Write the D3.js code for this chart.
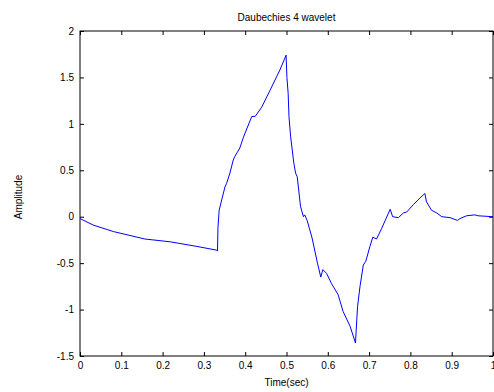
<!DOCTYPE html>
<html>
<head>
<meta charset="utf-8">
<script src="https://cdn.jsdelivr.net/npm/d3@7"></script>
<style>
  body { margin: 0; background: #fff; }
  text { font-family: "Liberation Sans", Arial, sans-serif; }
</style>
</head>
<body>
<div id="chart"></div>
<script>
// valores
var tiempo = [0, 0.032, 0.081, 0.157, 0.218, 0.283, 0.331, 0.333, 0.334, 0.337, 0.343, 0.351,
  0.355, 0.363, 0.371, 0.375, 0.387, 0.396, 0.416, 0.424, 0.440, 0.460, 0.484, 0.499,
  0.501, 0.504, 0.506, 0.510, 0.518, 0.522, 0.526, 0.534, 0.541, 0.544, 0.550, 0.562,
  0.575, 0.583, 0.588, 0.597, 0.609, 0.625, 0.637, 0.654,
  0.667, 0.672, 0.678, 0.686, 0.692, 0.702, 0.709, 0.718, 0.730, 0.741, 0.751, 0.757,
  0.771, 0.783, 0.791, 0.807, 0.823, 0.835, 0.839, 0.851, 0.864, 0.876, 0.896, 0.914,
  0.920, 0.936, 0.956, 0.964, 1.0];
var amplitud = [-0.02, -0.09, -0.16, -0.24, -0.27, -0.32, -0.36, -0.37, -0.12, 0.07, 0.18, 0.32,
  0.36, 0.47, 0.61, 0.65, 0.74, 0.86, 1.08, 1.08, 1.18, 1.36, 1.58, 1.74,
  1.50, 1.33, 1.08, 0.86, 0.57, 0.47, 0.43, 0.11, 0.0, 0.02, -0.04, -0.23,
  -0.50, -0.65, -0.57, -0.61, -0.72, -0.84, -1.02, -1.18,
  -1.36, -0.97, -0.75, -0.52, -0.48, -0.32, -0.22, -0.24, -0.13, -0.02, 0.08, 0.0,
  -0.01, 0.04, 0.05, 0.13, 0.20, 0.25, 0.16, 0.07, 0.04, 0.0, -0.01, -0.04,
  -0.02, 0.01, 0.02, 0.01, 0.0];
var ticksX = [0, 0.1, 0.2, 0.3, 0.4, 0.5, 0.6, 0.7, 0.8, 0.9, 1];
var ticksY = [-1.5, -1, -0.5, 0, 0.5, 1, 1.5, 2];

var W = 494, H = 392;
var margin = {top: 31, right: 1, bottom: 36, left: 80};
var width = W - margin.left - margin.right;
var height = H - margin.top - margin.bottom;

var svg = d3.select("#chart").append("svg")
    .attr("width", W)
    .attr("height", H);

var g = svg.append("g")
    .attr("transform", "translate(" + margin.left + "," + margin.top + ")");

var xScale = d3.scaleLinear().domain([0, 1]).range([0, width]);
var yScale = d3.scaleLinear().domain([-1.5, 2]).range([height, 0]);

// ejes con ticks hacia dentro, estilo matlab
var fmt = function(d) { return String(d); };
function estilo(sel) {
  sel.select(".domain").remove();
  sel.selectAll("line").attr("stroke", "#000");
  sel.selectAll("text").attr("fill", "#000").style("font-size", "10px");
}
g.append("g").attr("transform", "translate(0," + height + ")")
  .call(d3.axisBottom(xScale).tickValues(ticksX).tickFormat(fmt).tickSizeInner(-4).tickSizeOuter(0).tickPadding(6))
  .call(estilo);
g.append("g")
  .call(d3.axisTop(xScale).tickValues(ticksX).tickFormat("").tickSizeInner(-4).tickSizeOuter(0))
  .call(estilo);
g.append("g")
  .call(d3.axisLeft(yScale).tickValues(ticksY).tickFormat(fmt).tickSizeInner(-4).tickSizeOuter(0).tickPadding(6))
  .call(estilo);
g.append("g").attr("transform", "translate(" + width + ",0)")
  .call(d3.axisRight(yScale).tickValues(ticksY).tickFormat("").tickSizeInner(-4).tickSizeOuter(0))
  .call(estilo);

// marco
g.append("rect")
  .attr("x", 0).attr("y", 0)
  .attr("width", width).attr("height", height)
  .attr("fill", "none").attr("stroke", "#000").attr("stroke-width", 1);

// línea
g.append("path")
  .datum(d3.range(tiempo.length))
  .attr("fill", "none")
  .attr("stroke", "#0000ff")
  .attr("stroke-width", 1)
  .attr("d", d3.line()
    .x(function(i) { return xScale(tiempo[i]); })
    .y(function(i) { return yScale(amplitud[i]); }));

// textos
svg.append("text")
  .attr("x", margin.left + width / 2).attr("y", 21)
  .attr("text-anchor", "middle").style("font-size", "10px")
  .text("Daubechies 4 wavelet");
svg.append("text")
  .attr("x", margin.left + width / 2).attr("y", 386)
  .attr("text-anchor", "middle").style("font-size", "10px")
  .text("Time(sec)");
svg.append("text")
  .attr("transform", "translate(22,197) rotate(-90)")
  .attr("text-anchor", "middle").style("font-size", "10px")
  .text("Amplitude");
</script>
</body>
</html>
